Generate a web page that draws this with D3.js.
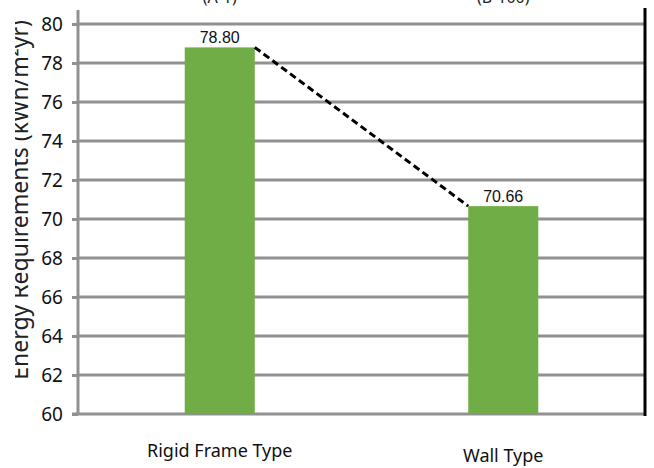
<!DOCTYPE html>
<html>
<head>
<meta charset="utf-8">
<script src="https://cdn.jsdelivr.net/npm/d3@7"></script>
<style>
  html, body { margin: 0; padding: 0; background: #fff; }
  svg { display: block; }
</style>
</head>
<body>
<svg id="chart" width="654" height="468"></svg>
<script>
// Building types and their annual energy requirements
const categories = ["Rigid Frame Type", "Wall Type"];
const energyValues = [78.80, 70.66];
const valueLabels = ["78.80", "70.66"];
const headerNotes = ["(A-1)", "(B-100)"];
const yTicks = [60, 62, 64, 66, 68, 70, 72, 74, 76, 78, 80];
const yTitle = "Energy Requirements (kWh/m\u00B2yr)";

const svg = d3.select("#chart");
const plotLeft = 78, plotRight = 645, plotTop = 24, plotBottom = 414;

const y = d3.scaleLinear().domain([60, 80]).range([plotBottom, plotTop]);
const x = d3.scaleBand().domain(categories).range([plotLeft, plotRight])
  .paddingInner(0.753).paddingOuter(0.3765);

const gridColor = "#919191";

// horizontal gridlines
svg.append("g").selectAll("line").data(yTicks.filter(t => t > 60)).join("line")
  .attr("x1", plotLeft).attr("x2", plotRight)
  .attr("y1", d => y(d)).attr("y2", d => y(d))
  .attr("stroke", gridColor).attr("stroke-width", 3);

// left axis with ticks
const yAxis = d3.axisLeft(y).tickValues(yTicks).tickSize(6).tickPadding(9).tickFormat(d3.format("d"));
const gy = svg.append("g").attr("transform", `translate(${plotLeft},0)`).call(yAxis);
gy.select(".domain").remove();
gy.selectAll(".tick line").attr("stroke", gridColor).attr("stroke-width", 3);
gy.selectAll(".tick text")
  .attr("font-family", "'Noto Sans', sans-serif")
  .attr("font-size", 19).attr("fill", "#111");
svg.append("line").attr("x1", plotLeft).attr("x2", plotLeft).attr("y1", 10).attr("y2", plotBottom)
  .attr("stroke", gridColor).attr("stroke-width", 3);

// baseline
svg.append("line").attr("x1", plotLeft - 6).attr("x2", plotRight).attr("y1", plotBottom).attr("y2", plotBottom)
  .attr("stroke", gridColor).attr("stroke-width", 3);

// right frame edge
svg.append("line").attr("x1", plotRight).attr("x2", plotRight).attr("y1", 8).attr("y2", plotBottom + 2)
  .attr("stroke", "#000").attr("stroke-width", 3);

// bars
svg.append("g").selectAll("rect").data(categories).join("rect")
  .attr("x", d => x(d))
  .attr("width", x.bandwidth())
  .attr("y", (d, i) => y(energyValues[i]))
  .attr("height", (d, i) => y(60) - y(energyValues[i]))
  .attr("fill", "#70ad47");

// dashed trend between bar tops
svg.append("line")
  .attr("x1", x(categories[0]) + x.bandwidth())
  .attr("y1", y(energyValues[0]))
  .attr("x2", x(categories[1]))
  .attr("y2", y(energyValues[1]))
  .attr("stroke", "#000").attr("stroke-width", 3)
  .attr("stroke-dasharray", "7,4");

// value labels
svg.append("g").selectAll("text").data(categories).join("text")
  .attr("x", d => x(d) + x.bandwidth() / 2)
  .attr("y", (d, i) => y(energyValues[i]) - 4)
  .attr("text-anchor", "middle")
  .attr("font-family", "'Liberation Sans', Arial, sans-serif")
  .attr("font-size", 16).attr("fill", "#111")
  .text((d, i) => valueLabels[i]);

// category labels
svg.append("g").selectAll("text").data(categories).join("text")
  .attr("x", d => x(d) + x.bandwidth() / 2)
  .attr("y", (d, i) => i === 0 ? 457 : 462)
  .attr("text-anchor", "middle")
  .attr("font-family", "'Noto Sans', sans-serif")
  .attr("font-size", 18).attr("fill", "#111")
  .text(d => d);

// notes above the plot, running off the top edge
svg.append("g").selectAll("text").data(categories).join("text")
  .attr("x", d => x(d) + x.bandwidth() / 2)
  .attr("y", 3)
  .attr("text-anchor", "middle")
  .attr("font-family", "'Noto Sans', sans-serif")
  .attr("font-size", 16).attr("fill", "#222")
  .text((d, i) => headerNotes[i]);

// y title, clipped along its upper edge
svg.append("clipPath").attr("id", "titleClip")
  .append("rect").attr("x", 15).attr("y", 0).attr("width", 40).attr("height", 468);
svg.append("g")
  .attr("clip-path", "url(#titleClip)")
  .append("text")
  .attr("transform", "translate(28,200) rotate(-90)")
  .attr("text-anchor", "middle")
  .attr("font-family", "'Noto Sans', sans-serif")
  .attr("font-size", 23).attr("fill", "#222")
  .text(yTitle);
</script>
</body>
</html>
